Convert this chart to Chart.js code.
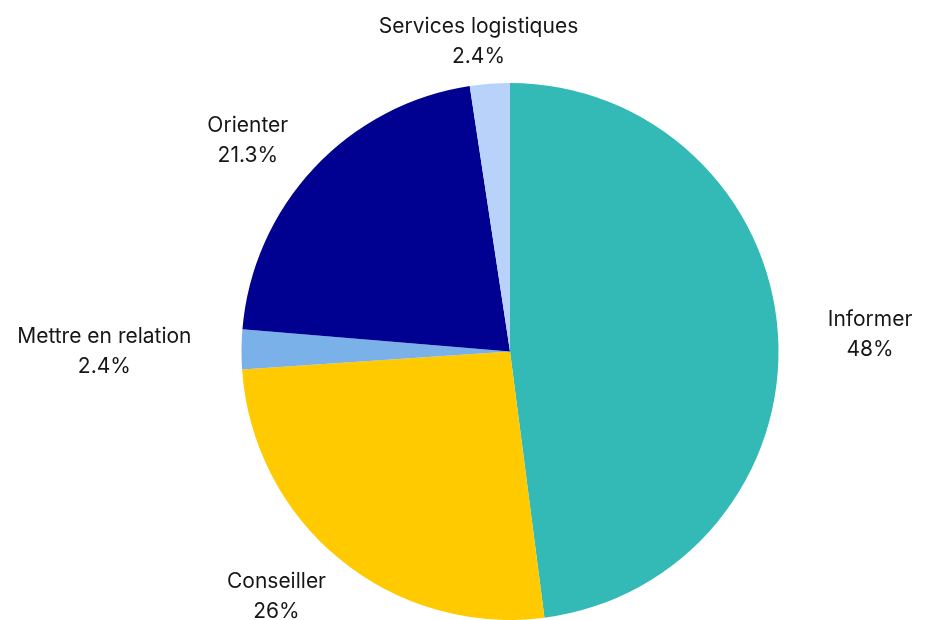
<!doctype HTML>
<html lang="fr">
<head>
    <meta charset=utf-8>
    <title>Répartition</title>
    <style type="text/css">
        * {
            padding: 0;
            margin: 0;
        }

        body {
            background: #ffffff;
        }
    </style>
    <script src="https://cdn.jsdelivr.net/npm/chart.js"></script>
</head>
<body>
    <canvas id="pieChart" width="942" height="620"></canvas>

    <script type="text/javascript">
        const labels = ['Informer', 'Conseiller', 'Mettre en relation', 'Orienter', 'Services logistiques'];
        const values = [48, 26, 2.4, 21.3, 2.4];
        const valueLabels = ['48%', '26%', '2.4%', '21.3%', '2.4%'];
        const colors = ['#34BAB6', '#FFCA00', '#7AB1E8', '#000091', '#B8D2FA'];

        // name + percent drawn outside each slice
        const outsideLabels = {
            id: 'outsideLabels',
            afterDatasetsDraw(chart) {
                const ctx = chart.ctx;
                const meta = chart.getDatasetMeta(0);
                const lineHeight = 30;
                ctx.save();
                ctx.font = '21px Inter, "Open Sans", sans-serif';
                ctx.fillStyle = '#161616';
                ctx.textAlign = 'center';
                ctx.textBaseline = 'middle';
                meta.data.forEach((arc, i) => {
                    const mid = (arc.startAngle + arc.endAngle) / 2;
                    const dx = Math.cos(mid);
                    const dy = Math.sin(mid);
                    const dist = arc.outerRadius + 15;
                    const px = arc.x + dx * dist;
                    const py = arc.y + dy * dist;
                    const lines = [labels[i], valueLabels[i]];
                    const w = Math.max(...lines.map(t => ctx.measureText(t).width));
                    const cx = px + dx * (w / 2 + 35);
                    const cy = py + dy * lineHeight + 3;
                    ctx.fillText(lines[0], cx, cy - lineHeight / 2);
                    ctx.fillText(lines[1], cx, cy + lineHeight / 2);
                });
                ctx.restore();
            }
        };

        const data = {
            labels: labels,
            datasets: [{
                data: values,
                backgroundColor: colors,
                borderWidth: 0
            }]
        };

        const config = {
            type: 'pie',
            data,
            options: {
                responsive: false,
                animation: false,
                layout: {
                    padding: { top: 83, bottom: 0, left: 241, right: 163 }
                },
                plugins: {
                    legend: { display: false },
                    tooltip: { enabled: false }
                }
            },
            plugins: [outsideLabels]
        };

        const chart = new Chart(document.getElementById('pieChart'), config);
    </script>
</body>
</html>
